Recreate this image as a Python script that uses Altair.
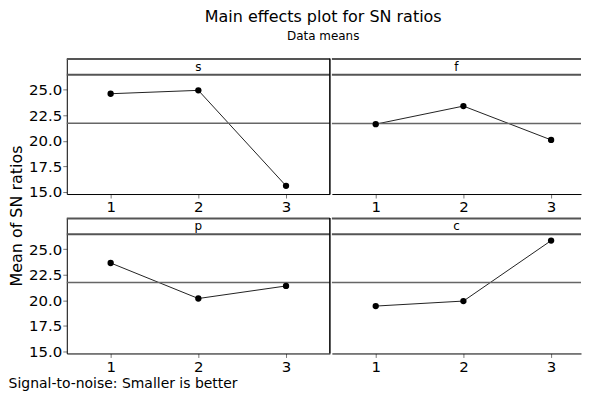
import altair as alt
import pandas as pd

# ---- data ----
factors = ["s", "f", "p", "c"]
levels = [1, 2, 3]
s_means = [24.60, 24.93, 15.58]
f_means = [21.62, 23.39, 20.08]
p_means = [23.64, 20.16, 21.39]
c_means = [19.42, 19.91, 25.83]
y_ticks = [15.0, 17.5, 20.0, 22.5, 25.0]

rows = []
for fac, vals in zip(factors, [s_means, f_means, p_means, c_means]):
    for lv, v in zip(levels, vals):
        rows.append({"factor": fac, "level": lv, "value": v})
df = pd.DataFrame(rows)

FONT = "DejaVu Sans"
W_LEFT, W_RIGHT, H = 264, 250, 136
STRIP = 16.3
UNIT = W_LEFT / 3.0  # pixels per level

yscale = alt.Scale(domain=[14.78, 28.05], nice=False, zero=False)
y_axis = alt.Axis(values=y_ticks, format=".1f", title=None, grid=False, tickSize=4, labelPadding=1)
x_axis = alt.Axis(values=levels, format="d", title=None, grid=False, tickSize=4, labelPadding=2)


def panel(fac, left):
    w = W_LEFT if left else W_RIGHT
    xscale = alt.Scale(domain=[0.5, 0.5 + w / UNIT], nice=False, zero=False)
    base = alt.Chart(df).transform_filter(alt.datum.factor == fac)
    one = base.transform_aggregate(n="count()", groupby=["factor"])
    yax = y_axis if left else None
    x_enc = alt.X("level:Q", scale=xscale, axis=x_axis)
    y_enc = alt.Y("value:Q", scale=yscale, axis=yax)

    mean_rule = base.transform_aggregate(
        m="mean(value)", groupby=["factor"]
    ).mark_rule(color="#666", strokeWidth=1.5).encode(
        y=alt.Y("m:Q", scale=yscale, axis=yax)
    )
    line = base.mark_line(color="#222", strokeWidth=1).encode(x=x_enc, y=y_enc)
    points = base.mark_circle(color="black", opacity=1, size=40).encode(x=x_enc, y=y_enc)
    top_line = one.mark_rule(color="#555", strokeWidth=2).encode(y=alt.value(0.5))
    strip_line = one.mark_rule(color="#555", strokeWidth=2).encode(y=alt.value(STRIP))
    strip_text = one.mark_text(font=FONT, fontSize=12, baseline="middle", color="black").encode(
        text="factor:N", x=alt.value(w / 2), y=alt.value(8.5)
    )
    layers = [line, mean_rule, points, top_line, strip_line, strip_text]
    if left:
        divider = one.mark_rule(color="black", strokeWidth=1.5).encode(
            x=alt.value(w), y=alt.value(0), y2=alt.value(H)
        )
        layers.append(divider)
    return alt.layer(*layers).properties(width=w, height=H)


top = alt.hconcat(panel("s", True), panel("f", False), spacing=0)
bottom = alt.hconcat(panel("p", True), panel("c", False), spacing=0)

grid = alt.vconcat(
    top, bottom, spacing=2,
    title=alt.TitleParams("Mean of SN ratios", orient="left", anchor="middle",
                          font=FONT, fontSize=16, fontWeight="normal", color="black",
                          offset=4),
)

mid = alt.vconcat(
    grid,
    title=alt.TitleParams("Signal-to-noise: Smaller is better", orient="bottom",
                          anchor="start", font=FONT, fontSize=14, fontWeight="normal",
                          color="black", offset=3),
)

chart = alt.vconcat(
    mid,
    title=alt.TitleParams("Main effects plot for SN ratios", subtitle="Data means",
                          anchor="middle", font=FONT, fontSize=16, fontWeight="normal",
                          color="black", subtitleFont=FONT, subtitleFontSize=12,
                          subtitleColor="black", subtitlePadding=6, offset=16, dx=28),
).properties(padding=0).configure_view(
    strokeWidth=0
).configure_axis(
    labelFont=FONT, labelFontSize=15, labelColor="black",
    tickColor="#777", domainColor="black", domainWidth=1
)

chart.save("out.html", embed_options={"renderer": "svg", "actions": False})
